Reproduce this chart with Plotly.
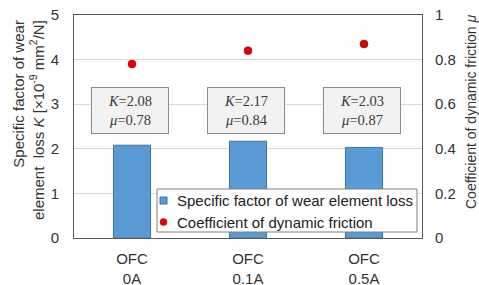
import plotly.graph_objects as go

categories = ["OFC<br>0A", "OFC<br>0.1A", "OFC<br>0.5A"]
k_values = [2.08, 2.17, 2.03]
mu_values = [0.78, 0.84, 0.87]
box_labels = ["<i>K</i>=2.08<br><i>μ</i>=0.78", "<i>K</i>=2.17<br><i>μ</i>=0.84", "<i>K</i>=2.03<br><i>μ</i>=0.87"]
left_ticks = [0, 1, 2, 3, 4, 5]
right_ticks = [0, 0.2, 0.4, 0.6, 0.8, 1]
right_tick_text = ["0", "0.2", "0.4", "0.6", "0.8", "1"]
legend_names = ["Specific factor of wear element loss", "Coefficient of dynamic friction"]

BAR_COLOR = "#5b9bd5"
BAR_LINE = "#41719c"
DOT_COLOR = "#e00000"
TXT = "#333333"

fig = go.Figure()
fig.add_trace(go.Bar(
    x=categories, y=k_values, name=legend_names[0],
    marker=dict(color=BAR_COLOR, line=dict(color=BAR_LINE, width=1)),
    width=0.32, showlegend=False,
))
fig.add_trace(go.Scatter(
    x=categories, y=mu_values, yaxis="y2", mode="markers",
    name=legend_names[1], showlegend=False,
    marker=dict(color=DOT_COLOR, size=8, line=dict(color="#b00000", width=0.5)),
))

for cat, txt in zip(categories, box_labels):
    fig.add_annotation(
        x=cat, y=2.86, xref="x", yref="y", text=txt, showarrow=False,
        font=dict(family="Liberation Serif, Times New Roman, serif", size=14.5, color="#3a3a3a"),
        bgcolor="#f2f2f2", bordercolor="#8c8c8c", borderwidth=1, borderpad=0,
        width=76, height=45, align="center", xshift=-2,
    )

# helpers: pixel -> paper coords
px0, py0 = 74, 238
W, H = 348, 223
def fx(p):
    return (p - px0) / W
def fy(p):
    return (py0 - p) / H

# Axis titles (rotated)
fig.add_annotation(
    xref="paper", yref="paper", x=fx(28), y=fy(120),
    text="Specific factor of wear<br>element  loss <i>K</i> [×10<sup>-9</sup> mm<sup>2</sup>/N]",
    textangle=-90, showarrow=False, align="right", xanchor="center", yanchor="middle",
    font=dict(size=15, color=TXT),
)
fig.add_annotation(
    xref="paper", yref="paper", x=fx(471), y=fy(112),
    text="Coefficient of dynamic friction <i>μ</i>",
    textangle=-90, showarrow=False, xanchor="center", yanchor="middle",
    font=dict(size=14, color=TXT),
)

# Manual legend
fig.add_shape(type="rect", xref="paper", yref="paper",
              x0=fx(157), x1=fx(417), y0=fy(232), y1=fy(189),
              fillcolor="white", line=dict(color="#7f7f7f", width=1), layer="above")
fig.add_shape(type="rect", xref="paper", yref="paper",
              x0=fx(160), x1=fx(167), y0=fy(204), y1=fy(197),
              fillcolor=BAR_COLOR, line=dict(color=BAR_LINE, width=1), layer="above")
fig.add_shape(type="circle", xref="paper", yref="paper",
              x0=fx(160), x1=fx(167), y0=fy(225.5), y1=fy(218.5),
              fillcolor=DOT_COLOR, line=dict(color="#b00000", width=0.5), layer="above")
fig.add_annotation(xref="paper", yref="paper", x=fx(175), y=fy(200.5),
                   text=legend_names[0], showarrow=False, xanchor="left", yanchor="middle",
                   font=dict(size=15, color="#222222"))
fig.add_annotation(xref="paper", yref="paper", x=fx(175), y=fy(222),
                   text=legend_names[1], showarrow=False, xanchor="left", yanchor="middle",
                   font=dict(size=15, color="#222222"))

fig.update_layout(
    width=479, height=285,
    margin=dict(l=74, r=57, t=15, b=47, autoexpand=False),
    paper_bgcolor="white", plot_bgcolor="white",
    font=dict(family="Liberation Sans, Arial, sans-serif", size=15, color=TXT),
    showlegend=False,
    bargap=0.68,
    xaxis=dict(
        showline=True, linecolor="#595959", linewidth=1, mirror=True,
        tickfont=dict(size=15), ticks="", automargin=False, ticklabelstandoff=7,
    ),
    yaxis=dict(
        range=[0, 5], tickvals=left_ticks, showgrid=True, gridcolor="#d9d9d9",
        showline=True, linecolor="#595959", linewidth=1, mirror=True,
        zeroline=False, ticks="", tickfont=dict(size=15), automargin=False,
        ticklabelstandoff=11,
    ),
    yaxis2=dict(
        range=[0, 1], tickvals=right_ticks, ticktext=right_tick_text,
        overlaying="y", side="right", showgrid=False, zeroline=False,
        showline=False, ticks="", tickfont=dict(size=15), automargin=False,
        ticklabelstandoff=12,
    ),
)

fig.write_html(
    "out.html",
    config={"displayModeBar": False},
    post_script="document.body.style.margin='0';document.body.style.overflow='hidden';",
)
